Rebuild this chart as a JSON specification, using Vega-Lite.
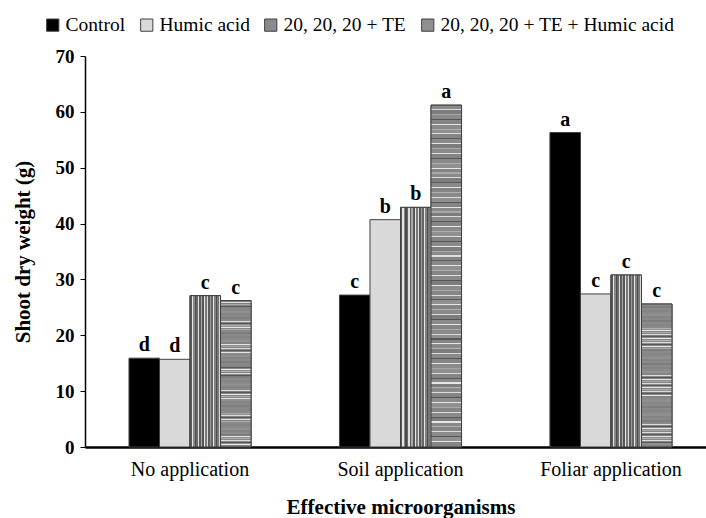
{
  "$schema": "https://vega.github.io/schema/vega-lite/v6.json",
  "autosize": {"type": "none"},
  "padding": {"left": 85, "top": 56, "right": 0, "bottom": 71},
  "width": 621,
  "height": 391,
  "background": "white",
  "config": {
    "view": {"stroke": null},
    "font": "Liberation Serif",
    "axis": {"labelFont": "Liberation Serif", "titleFont": "Liberation Serif", "domainColor": "#000000", "tickColor": "#000000", "labelColor": "#000000", "titleColor": "#000000", "grid": false},
    "legend": {"labelFont": "Liberation Serif", "labelFontSize": 19.5, "labelLimit": 400, "labelColor": "#000000"}
  },
  "data": {
    "values": [
      {"app": "No application", "trt": "Control", "value": 15.9, "letter": "d"},
      {"app": "No application", "trt": "Humic acid", "value": 15.7, "letter": "d"},
      {"app": "No application", "trt": "20, 20, 20 + TE", "value": 27.1, "letter": "c"},
      {"app": "No application", "trt": "20, 20, 20 + TE + Humic acid", "value": 26.2, "letter": "c"},
      {"app": "Soil application", "trt": "Control", "value": 27.2, "letter": "c"},
      {"app": "Soil application", "trt": "Humic acid", "value": 40.7, "letter": "b"},
      {"app": "Soil application", "trt": "20, 20, 20 + TE", "value": 42.9, "letter": "b"},
      {"app": "Soil application", "trt": "20, 20, 20 + TE + Humic acid", "value": 61.2, "letter": "a"},
      {"app": "Foliar application", "trt": "Control", "value": 56.3, "letter": "a"},
      {"app": "Foliar application", "trt": "Humic acid", "value": 27.4, "letter": "c"},
      {"app": "Foliar application", "trt": "20, 20, 20 + TE", "value": 30.8, "letter": "c"},
      {"app": "Foliar application", "trt": "20, 20, 20 + TE + Humic acid", "value": 25.6, "letter": "c"}
    ]
  },
  "encoding": {
    "x": {
      "field": "app", "type": "nominal",
      "sort": ["No application", "Soil application", "Foliar application"],
      "scale": {"range": [0, 631], "paddingInner": 0.42, "paddingOuter": 0.209},
      "axis": {"title": "Effective microorganisms", "titleFontSize": 21, "titleFontWeight": "bold", "titlePadding": 17, "labelFontSize": 20, "labelFontWeight": "normal", "labelAngle": 0, "ticks": false, "labelPadding": 12, "domainWidth": 2.5}
    },
    "xOffset": {
      "field": "trt", "type": "nominal",
      "scale": {"domain": ["Control", "Humic acid", "20, 20, 20 + TE", "20, 20, 20 + TE + Humic acid"]}
    },
    "y": {
      "field": "value", "type": "quantitative",
      "scale": {"domain": [0, 70], "nice": false},
      "axis": {"title": "Shoot dry weight (g)", "titleFontSize": 21, "titleFontWeight": "bold", "titlePadding": 22, "values": [0, 10, 20, 30, 40, 50, 60, 70], "labelFontSize": 19, "labelFontWeight": "bold", "tickSize": 5, "labelPadding": 6, "domainWidth": 1.5}
    }
  },
  "layer": [
    {
      "mark": {"type": "bar", "stroke": "#404040", "strokeWidth": 1},
      "encoding": {
        "color": {
          "field": "trt", "type": "nominal",
          "scale": {"domain": ["Control", "Humic acid", "20, 20, 20 + TE", "20, 20, 20 + TE + Humic acid"], "range": ["#000000", "#d9d9d9", "#8a8a8a", "#8f8f8f"]},
          "legend": {"title": null, "orient": "none", "legendX": -42, "legendY": -41, "direction": "horizontal", "symbolType": "square", "symbolSize": 150, "symbolStrokeColor": "#404040", "symbolStrokeWidth": 1, "labelFont": "Liberation Serif", "labelFontSize": 19.5, "labelLimit": 400, "labelColor": "#000000", "labelOffset": 3, "columnPadding": 11, "symbolOpacity": 1}
        }
      }
    },
    {
      "transform": [{"filter": "datum.trt === '20, 20, 20 + TE'"}],
      "mark": {
        "type": "bar", "stroke": "#404040", "strokeWidth": 1,
        "fill": {
          "gradient": "linear", "x1": 0, "y1": 0, "x2": 1, "y2": 0,
          "stops": [
            {"offset": 0.0, "color": "#5c5c5c"}, {"offset": 0.06, "color": "#5c5c5c"}, {"offset": 0.06, "color": "#e6e6e6"}, {"offset": 0.1, "color": "#e6e6e6"},
            {"offset": 0.1, "color": "#888888"}, {"offset": 0.16, "color": "#888888"}, {"offset": 0.16, "color": "#4a4a4a"}, {"offset": 0.2, "color": "#4a4a4a"},
            {"offset": 0.2, "color": "#6a6a6a"}, {"offset": 0.26, "color": "#6a6a6a"}, {"offset": 0.26, "color": "#e0e0e0"}, {"offset": 0.3, "color": "#e0e0e0"},
            {"offset": 0.3, "color": "#5c5c5c"}, {"offset": 0.36, "color": "#5c5c5c"}, {"offset": 0.36, "color": "#aaaaaa"}, {"offset": 0.4, "color": "#aaaaaa"},
            {"offset": 0.4, "color": "#555555"}, {"offset": 0.46, "color": "#555555"}, {"offset": 0.46, "color": "#e6e6e6"}, {"offset": 0.5, "color": "#e6e6e6"},
            {"offset": 0.5, "color": "#7a7a7a"}, {"offset": 0.56, "color": "#7a7a7a"}, {"offset": 0.56, "color": "#d9d9d9"}, {"offset": 0.6, "color": "#d9d9d9"},
            {"offset": 0.6, "color": "#5c5c5c"}, {"offset": 0.66, "color": "#5c5c5c"}, {"offset": 0.66, "color": "#999999"}, {"offset": 0.7, "color": "#999999"},
            {"offset": 0.7, "color": "#666666"}, {"offset": 0.76, "color": "#666666"}, {"offset": 0.76, "color": "#e6e6e6"}, {"offset": 0.8, "color": "#e6e6e6"},
            {"offset": 0.8, "color": "#808080"}, {"offset": 0.86, "color": "#808080"}, {"offset": 0.86, "color": "#4d4d4d"}, {"offset": 0.9, "color": "#4d4d4d"},
            {"offset": 0.9, "color": "#777777"}, {"offset": 0.96, "color": "#777777"}, {"offset": 0.96, "color": "#d9d9d9"}, {"offset": 1.0, "color": "#d9d9d9"}
          ]
        }
      }
    },
    {
      "transform": [{"filter": "datum.trt === '20, 20, 20 + TE + Humic acid'"}],
      "mark": {
        "type": "bar", "stroke": "#404040", "strokeWidth": 1,
        "fill": {
          "gradient": "linear", "x1": 0, "y1": 0, "x2": 0, "y2": 1,
          "stops": [
            {"offset": 0.0, "color": "#8a8a8a"}, {"offset": 0.011, "color": "#8a8a8a"}, {"offset": 0.011, "color": "#dcdcdc"}, {"offset": 0.0143, "color": "#dcdcdc"},
            {"offset": 0.0143, "color": "#7d7d7d"}, {"offset": 0.0254, "color": "#7d7d7d"}, {"offset": 0.0254, "color": "#a8a8a8"}, {"offset": 0.0286, "color": "#a8a8a8"},
            {"offset": 0.0286, "color": "#8a8a8a"}, {"offset": 0.0397, "color": "#8a8a8a"}, {"offset": 0.0397, "color": "#555555"}, {"offset": 0.0429, "color": "#555555"},
            {"offset": 0.0429, "color": "#858585"}, {"offset": 0.054, "color": "#858585"}, {"offset": 0.054, "color": "#e6e6e6"}, {"offset": 0.0571, "color": "#e6e6e6"},
            {"offset": 0.0571, "color": "#8a8a8a"}, {"offset": 0.0683, "color": "#8a8a8a"}, {"offset": 0.0683, "color": "#b0b0b0"}, {"offset": 0.0714, "color": "#b0b0b0"},
            {"offset": 0.0714, "color": "#909090"}, {"offset": 0.0826, "color": "#909090"}, {"offset": 0.0826, "color": "#dcdcdc"}, {"offset": 0.0857, "color": "#dcdcdc"},
            {"offset": 0.0857, "color": "#858585"}, {"offset": 0.0969, "color": "#858585"}, {"offset": 0.0969, "color": "#5a5a5a"}, {"offset": 0.1, "color": "#5a5a5a"},
            {"offset": 0.1, "color": "#8a8a8a"}, {"offset": 0.111, "color": "#8a8a8a"}, {"offset": 0.111, "color": "#e6e6e6"}, {"offset": 0.1143, "color": "#e6e6e6"},
            {"offset": 0.1143, "color": "#7d7d7d"}, {"offset": 0.1254, "color": "#7d7d7d"}, {"offset": 0.1254, "color": "#a8a8a8"}, {"offset": 0.1286, "color": "#a8a8a8"},
            {"offset": 0.1286, "color": "#8a8a8a"}, {"offset": 0.1397, "color": "#8a8a8a"}, {"offset": 0.1397, "color": "#dcdcdc"}, {"offset": 0.1429, "color": "#dcdcdc"},
            {"offset": 0.1429, "color": "#858585"}, {"offset": 0.154, "color": "#858585"}, {"offset": 0.154, "color": "#555555"}, {"offset": 0.1571, "color": "#555555"},
            {"offset": 0.1571, "color": "#8a8a8a"}, {"offset": 0.1683, "color": "#8a8a8a"}, {"offset": 0.1683, "color": "#b0b0b0"}, {"offset": 0.1714, "color": "#b0b0b0"},
            {"offset": 0.1714, "color": "#909090"}, {"offset": 0.1826, "color": "#909090"}, {"offset": 0.1826, "color": "#e6e6e6"}, {"offset": 0.1857, "color": "#e6e6e6"},
            {"offset": 0.1857, "color": "#858585"}, {"offset": 0.1969, "color": "#858585"}, {"offset": 0.1969, "color": "#a8a8a8"}, {"offset": 0.2, "color": "#a8a8a8"},
            {"offset": 0.2, "color": "#8a8a8a"}, {"offset": 0.211, "color": "#8a8a8a"}, {"offset": 0.211, "color": "#dcdcdc"}, {"offset": 0.2143, "color": "#dcdcdc"},
            {"offset": 0.2143, "color": "#7d7d7d"}, {"offset": 0.2254, "color": "#7d7d7d"}, {"offset": 0.2254, "color": "#5a5a5a"}, {"offset": 0.2286, "color": "#5a5a5a"},
            {"offset": 0.2286, "color": "#8a8a8a"}, {"offset": 0.2397, "color": "#8a8a8a"}, {"offset": 0.2397, "color": "#e6e6e6"}, {"offset": 0.2429, "color": "#e6e6e6"},
            {"offset": 0.2429, "color": "#858585"}, {"offset": 0.254, "color": "#858585"}, {"offset": 0.254, "color": "#b0b0b0"}, {"offset": 0.2571, "color": "#b0b0b0"},
            {"offset": 0.2571, "color": "#8a8a8a"}, {"offset": 0.2683, "color": "#8a8a8a"}, {"offset": 0.2683, "color": "#dcdcdc"}, {"offset": 0.2714, "color": "#dcdcdc"},
            {"offset": 0.2714, "color": "#909090"}, {"offset": 0.2826, "color": "#909090"}, {"offset": 0.2826, "color": "#555555"}, {"offset": 0.2857, "color": "#555555"},
            {"offset": 0.2857, "color": "#858585"}, {"offset": 0.2969, "color": "#858585"}, {"offset": 0.2969, "color": "#e6e6e6"}, {"offset": 0.3, "color": "#e6e6e6"},
            {"offset": 0.3, "color": "#8a8a8a"}, {"offset": 0.311, "color": "#8a8a8a"}, {"offset": 0.311, "color": "#a8a8a8"}, {"offset": 0.3143, "color": "#a8a8a8"},
            {"offset": 0.3143, "color": "#7d7d7d"}, {"offset": 0.3254, "color": "#7d7d7d"}, {"offset": 0.3254, "color": "#dcdcdc"}, {"offset": 0.3286, "color": "#dcdcdc"},
            {"offset": 0.3286, "color": "#8a8a8a"}, {"offset": 0.3397, "color": "#8a8a8a"}, {"offset": 0.3397, "color": "#5a5a5a"}, {"offset": 0.3429, "color": "#5a5a5a"},
            {"offset": 0.3429, "color": "#858585"}, {"offset": 0.354, "color": "#858585"}, {"offset": 0.354, "color": "#e6e6e6"}, {"offset": 0.3571, "color": "#e6e6e6"},
            {"offset": 0.3571, "color": "#8a8a8a"}, {"offset": 0.3683, "color": "#8a8a8a"}, {"offset": 0.3683, "color": "#b0b0b0"}, {"offset": 0.3714, "color": "#b0b0b0"},
            {"offset": 0.3714, "color": "#909090"}, {"offset": 0.3826, "color": "#909090"}, {"offset": 0.3826, "color": "#dcdcdc"}, {"offset": 0.3857, "color": "#dcdcdc"},
            {"offset": 0.3857, "color": "#858585"}, {"offset": 0.3969, "color": "#858585"}, {"offset": 0.3969, "color": "#555555"}, {"offset": 0.4, "color": "#555555"},
            {"offset": 0.4, "color": "#8a8a8a"}, {"offset": 0.411, "color": "#8a8a8a"}, {"offset": 0.411, "color": "#e6e6e6"}, {"offset": 0.4143, "color": "#e6e6e6"},
            {"offset": 0.4143, "color": "#7d7d7d"}, {"offset": 0.4254, "color": "#7d7d7d"}, {"offset": 0.4254, "color": "#a8a8a8"}, {"offset": 0.4286, "color": "#a8a8a8"},
            {"offset": 0.4286, "color": "#8a8a8a"}, {"offset": 0.4397, "color": "#8a8a8a"}, {"offset": 0.4397, "color": "#dcdcdc"}, {"offset": 0.4429, "color": "#dcdcdc"},
            {"offset": 0.4429, "color": "#858585"}, {"offset": 0.454, "color": "#858585"}, {"offset": 0.454, "color": "#5a5a5a"}, {"offset": 0.4571, "color": "#5a5a5a"},
            {"offset": 0.4571, "color": "#8a8a8a"}, {"offset": 0.4683, "color": "#8a8a8a"}, {"offset": 0.4683, "color": "#e6e6e6"}, {"offset": 0.4714, "color": "#e6e6e6"},
            {"offset": 0.4714, "color": "#909090"}, {"offset": 0.4826, "color": "#909090"}, {"offset": 0.4826, "color": "#b0b0b0"}, {"offset": 0.4857, "color": "#b0b0b0"},
            {"offset": 0.4857, "color": "#858585"}, {"offset": 0.4969, "color": "#858585"}, {"offset": 0.4969, "color": "#dcdcdc"}, {"offset": 0.5, "color": "#dcdcdc"},
            {"offset": 0.5, "color": "#8a8a8a"}, {"offset": 0.511, "color": "#8a8a8a"}, {"offset": 0.511, "color": "#555555"}, {"offset": 0.5143, "color": "#555555"},
            {"offset": 0.5143, "color": "#7d7d7d"}, {"offset": 0.5254, "color": "#7d7d7d"}, {"offset": 0.5254, "color": "#e6e6e6"}, {"offset": 0.5286, "color": "#e6e6e6"},
            {"offset": 0.5286, "color": "#8a8a8a"}, {"offset": 0.5397, "color": "#8a8a8a"}, {"offset": 0.5397, "color": "#a8a8a8"}, {"offset": 0.5429, "color": "#a8a8a8"},
            {"offset": 0.5429, "color": "#858585"}, {"offset": 0.554, "color": "#858585"}, {"offset": 0.554, "color": "#dcdcdc"}, {"offset": 0.5571, "color": "#dcdcdc"},
            {"offset": 0.5571, "color": "#8a8a8a"}, {"offset": 0.5683, "color": "#8a8a8a"}, {"offset": 0.5683, "color": "#5a5a5a"}, {"offset": 0.5714, "color": "#5a5a5a"},
            {"offset": 0.5714, "color": "#909090"}, {"offset": 0.5826, "color": "#909090"}, {"offset": 0.5826, "color": "#e6e6e6"}, {"offset": 0.5857, "color": "#e6e6e6"},
            {"offset": 0.5857, "color": "#858585"}, {"offset": 0.5969, "color": "#858585"}, {"offset": 0.5969, "color": "#b0b0b0"}, {"offset": 0.6, "color": "#b0b0b0"},
            {"offset": 0.6, "color": "#8a8a8a"}, {"offset": 0.611, "color": "#8a8a8a"}, {"offset": 0.611, "color": "#dcdcdc"}, {"offset": 0.6143, "color": "#dcdcdc"},
            {"offset": 0.6143, "color": "#7d7d7d"}, {"offset": 0.6254, "color": "#7d7d7d"}, {"offset": 0.6254, "color": "#555555"}, {"offset": 0.6286, "color": "#555555"},
            {"offset": 0.6286, "color": "#8a8a8a"}, {"offset": 0.6397, "color": "#8a8a8a"}, {"offset": 0.6397, "color": "#e6e6e6"}, {"offset": 0.6429, "color": "#e6e6e6"},
            {"offset": 0.6429, "color": "#858585"}, {"offset": 0.654, "color": "#858585"}, {"offset": 0.654, "color": "#a8a8a8"}, {"offset": 0.6571, "color": "#a8a8a8"},
            {"offset": 0.6571, "color": "#8a8a8a"}, {"offset": 0.6683, "color": "#8a8a8a"}, {"offset": 0.6683, "color": "#dcdcdc"}, {"offset": 0.6714, "color": "#dcdcdc"},
            {"offset": 0.6714, "color": "#909090"}, {"offset": 0.6826, "color": "#909090"}, {"offset": 0.6826, "color": "#5a5a5a"}, {"offset": 0.6857, "color": "#5a5a5a"},
            {"offset": 0.6857, "color": "#858585"}, {"offset": 0.6969, "color": "#858585"}, {"offset": 0.6969, "color": "#e6e6e6"}, {"offset": 0.7, "color": "#e6e6e6"},
            {"offset": 0.7, "color": "#8a8a8a"}, {"offset": 0.711, "color": "#8a8a8a"}, {"offset": 0.711, "color": "#b0b0b0"}, {"offset": 0.7143, "color": "#b0b0b0"},
            {"offset": 0.7143, "color": "#7d7d7d"}, {"offset": 0.7254, "color": "#7d7d7d"}, {"offset": 0.7254, "color": "#dcdcdc"}, {"offset": 0.7286, "color": "#dcdcdc"},
            {"offset": 0.7286, "color": "#8a8a8a"}, {"offset": 0.7397, "color": "#8a8a8a"}, {"offset": 0.7397, "color": "#555555"}, {"offset": 0.7429, "color": "#555555"},
            {"offset": 0.7429, "color": "#858585"}, {"offset": 0.754, "color": "#858585"}, {"offset": 0.754, "color": "#e6e6e6"}, {"offset": 0.7571, "color": "#e6e6e6"},
            {"offset": 0.7571, "color": "#8a8a8a"}, {"offset": 0.7683, "color": "#8a8a8a"}, {"offset": 0.7683, "color": "#a8a8a8"}, {"offset": 0.7714, "color": "#a8a8a8"},
            {"offset": 0.7714, "color": "#909090"}, {"offset": 0.7826, "color": "#909090"}, {"offset": 0.7826, "color": "#dcdcdc"}, {"offset": 0.7857, "color": "#dcdcdc"},
            {"offset": 0.7857, "color": "#858585"}, {"offset": 0.7969, "color": "#858585"}, {"offset": 0.7969, "color": "#5a5a5a"}, {"offset": 0.8, "color": "#5a5a5a"},
            {"offset": 0.8, "color": "#8a8a8a"}, {"offset": 0.811, "color": "#8a8a8a"}, {"offset": 0.811, "color": "#e6e6e6"}, {"offset": 0.8143, "color": "#e6e6e6"},
            {"offset": 0.8143, "color": "#7d7d7d"}, {"offset": 0.8254, "color": "#7d7d7d"}, {"offset": 0.8254, "color": "#b0b0b0"}, {"offset": 0.8286, "color": "#b0b0b0"},
            {"offset": 0.8286, "color": "#8a8a8a"}, {"offset": 0.8397, "color": "#8a8a8a"}, {"offset": 0.8397, "color": "#dcdcdc"}, {"offset": 0.8429, "color": "#dcdcdc"},
            {"offset": 0.8429, "color": "#858585"}, {"offset": 0.854, "color": "#858585"}, {"offset": 0.854, "color": "#555555"}, {"offset": 0.8571, "color": "#555555"},
            {"offset": 0.8571, "color": "#8a8a8a"}, {"offset": 0.8683, "color": "#8a8a8a"}, {"offset": 0.8683, "color": "#e6e6e6"}, {"offset": 0.8714, "color": "#e6e6e6"},
            {"offset": 0.8714, "color": "#909090"}, {"offset": 0.8826, "color": "#909090"}, {"offset": 0.8826, "color": "#a8a8a8"}, {"offset": 0.8857, "color": "#a8a8a8"},
            {"offset": 0.8857, "color": "#858585"}, {"offset": 0.8969, "color": "#858585"}, {"offset": 0.8969, "color": "#dcdcdc"}, {"offset": 0.9, "color": "#dcdcdc"},
            {"offset": 0.9, "color": "#8a8a8a"}, {"offset": 0.911, "color": "#8a8a8a"}, {"offset": 0.911, "color": "#5a5a5a"}, {"offset": 0.9143, "color": "#5a5a5a"},
            {"offset": 0.9143, "color": "#7d7d7d"}, {"offset": 0.9254, "color": "#7d7d7d"}, {"offset": 0.9254, "color": "#e6e6e6"}, {"offset": 0.9286, "color": "#e6e6e6"},
            {"offset": 0.9286, "color": "#8a8a8a"}, {"offset": 0.9397, "color": "#8a8a8a"}, {"offset": 0.9397, "color": "#b0b0b0"}, {"offset": 0.9429, "color": "#b0b0b0"},
            {"offset": 0.9429, "color": "#858585"}, {"offset": 0.954, "color": "#858585"}, {"offset": 0.954, "color": "#dcdcdc"}, {"offset": 0.9571, "color": "#dcdcdc"},
            {"offset": 0.9571, "color": "#8a8a8a"}, {"offset": 0.9683, "color": "#8a8a8a"}, {"offset": 0.9683, "color": "#555555"}, {"offset": 0.9714, "color": "#555555"},
            {"offset": 0.9714, "color": "#909090"}, {"offset": 0.9826, "color": "#909090"}, {"offset": 0.9826, "color": "#e6e6e6"}, {"offset": 0.9857, "color": "#e6e6e6"},
            {"offset": 0.9857, "color": "#858585"}, {"offset": 1.0, "color": "#858585"}
          ]
        }
      }
    },
    {
      "mark": {"type": "text", "font": "Liberation Serif", "fontSize": 20, "fontWeight": "bold", "baseline": "alphabetic", "dy": -7, "color": "#000000"},
      "encoding": {"text": {"field": "letter", "type": "nominal"}}
    }
  ]
}
